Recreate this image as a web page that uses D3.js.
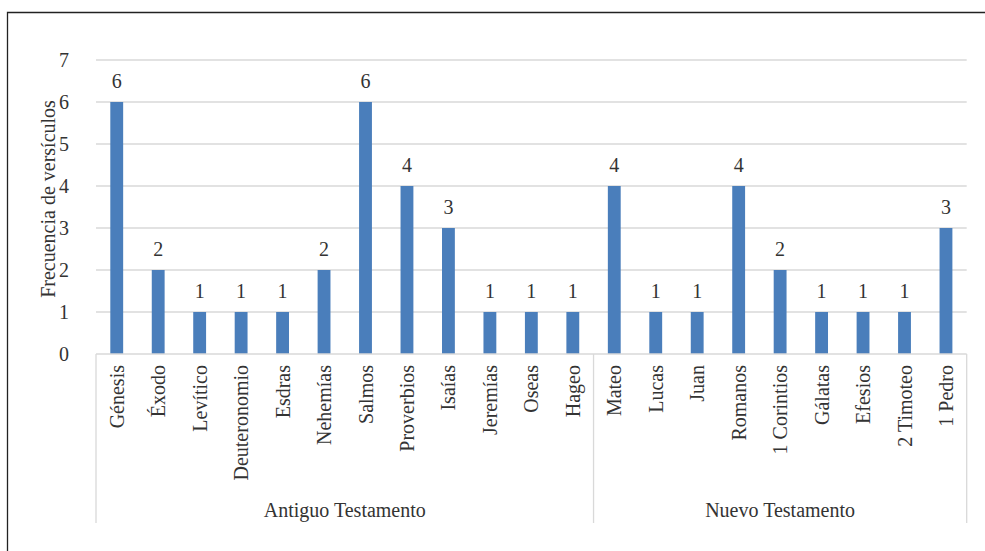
<!DOCTYPE html>
<html>
<head>
<meta charset="utf-8">
<script src="https://cdn.jsdelivr.net/npm/d3@7"></script>
<style>
  html, body { margin: 0; padding: 0; background: #fff; }
  svg { display: block; }
  svg text { font-family: "Liberation Serif", "Tinos", "Times New Roman", "DejaVu Serif", serif; }
</style>
</head>
<body>
<svg id="chart" width="985" height="551"></svg>
<script>
// Books of the Bible and how many verses are cited from each
const books = ["Génesis", "Éxodo", "Levítico", "Deuteronomio", "Esdras", "Nehemías", "Salmos",
  "Proverbios", "Isaías", "Jeremías", "Oseas", "Hageo",
  "Mateo", "Lucas", "Juan", "Romanos", "1 Corintios", "Gálatas", "Efesios", "2 Timoteo", "1 Pedro"];
const verses = [6, 2, 1, 1, 1, 2, 6, 4, 3, 1, 1, 1, 4, 1, 1, 4, 2, 1, 1, 1, 3];
const groups = ["Antiguo Testamento", "Nuevo Testamento"];
const groupSizes = [12, 9];
const yTicks = [0, 1, 2, 3, 4, 5, 6, 7];
const yTitle = "Frecuencia de versículos";

const svg = d3.select("#chart");
const plotLeft = 96, plotRight = 966.7, plotTop = 60, plotBottom = 354;
const textColor = "#333";
const gridColor = "#d9d9d9";

// Outer frame (only the left and top edges fall inside the view)
svg.append("path")
  .attr("d", "M7.5,560 V12.5 H990")
  .attr("fill", "none").attr("stroke", "#222").attr("stroke-width", 1.3);

const x = d3.scaleBand().domain(books).range([plotLeft, plotRight]).padding(0);
const y = d3.scaleLinear().domain([0, 7]).range([plotBottom, plotTop]);

// Horizontal gridlines
svg.append("g").selectAll("line").data(yTicks.filter(t => t > 0)).join("line")
  .attr("x1", plotLeft).attr("x2", plotRight)
  .attr("y1", d => y(d)).attr("y2", d => y(d))
  .attr("stroke", gridColor).attr("stroke-width", 1.3);

// Y axis labels
const yAxis = svg.append("g").attr("transform", `translate(${plotLeft},0)`)
  .call(d3.axisLeft(y).tickValues(yTicks).tickSize(0).tickPadding(27).tickFormat(d3.format("d")));
yAxis.attr("font-family", null);
yAxis.select(".domain").remove();
yAxis.selectAll("text").attr("font-size", 20).attr("fill", textColor);

// Y axis title
svg.append("text")
  .attr("transform", `translate(55,199) rotate(-90)`)
  .attr("text-anchor", "middle")
  .attr("font-size", 20).attr("fill", textColor)
  .text(yTitle);

// Bars
const barW = x.bandwidth() * 0.31;
svg.append("g").selectAll("rect").data(books).join("rect")
  .attr("x", (d) => x(d) + (x.bandwidth() - barW) / 2)
  .attr("width", barW)
  .attr("y", (d, i) => y(verses[i]))
  .attr("height", (d, i) => y(0) - y(verses[i]))
  .attr("fill", "#4a7ebb");

// Value labels above bars
svg.append("g").selectAll("text").data(books).join("text")
  .attr("x", d => x(d) + x.bandwidth() / 2)
  .attr("y", (d, i) => y(verses[i]) - 14)
  .attr("text-anchor", "middle")
  .attr("font-size", 20).attr("fill", textColor)
  .text((d, i) => verses[i]);

// Category axis line
svg.append("line")
  .attr("x1", plotLeft).attr("x2", plotRight).attr("y1", plotBottom).attr("y2", plotBottom)
  .attr("stroke", gridColor).attr("stroke-width", 1.3);

// Rotated book names
svg.append("g").selectAll("text").data(books).join("text")
  .attr("transform", d => `translate(${x(d) + x.bandwidth() / 2 + 7},365) rotate(-90)`)
  .attr("text-anchor", "end")
  .attr("font-size", 20).attr("fill", textColor)
  .text(d => d);

// Group separators and group names
let acc = 0;
const bounds = [0];
groupSizes.forEach(n => { acc += n; bounds.push(acc); });
const edgeX = i => i < books.length ? x(books[i]) : plotRight;
svg.append("g").selectAll("line").data(bounds).join("line")
  .attr("x1", d => edgeX(d)).attr("x2", d => edgeX(d))
  .attr("y1", plotBottom).attr("y2", 523)
  .attr("stroke", gridColor).attr("stroke-width", 1.3);

svg.append("g").selectAll("text").data(groups).join("text")
  .attr("x", (d, i) => (edgeX(bounds[i]) + edgeX(bounds[i + 1])) / 2)
  .attr("y", 517)
  .attr("text-anchor", "middle")
  .attr("font-size", 20).attr("fill", textColor)
  .text(d => d);
</script>
</body>
</html>
